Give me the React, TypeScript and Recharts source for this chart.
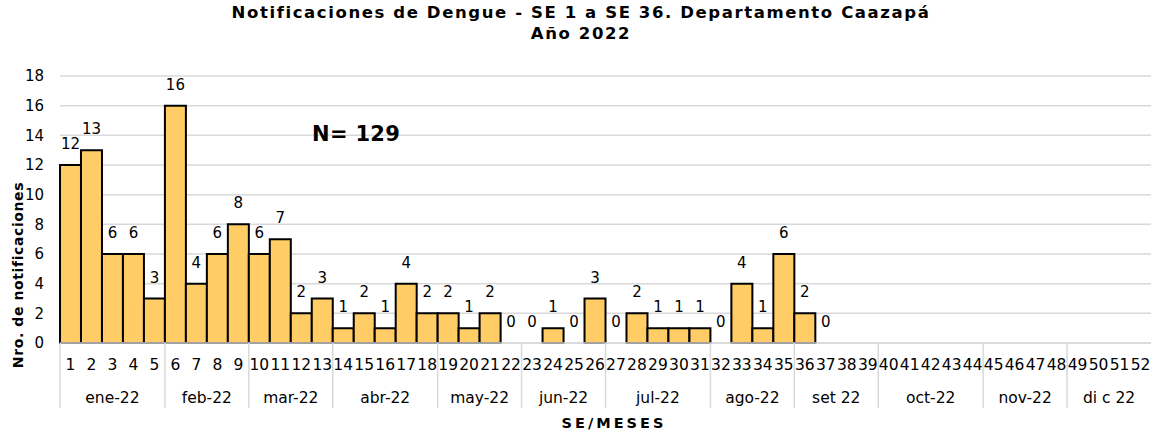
import React from "react";
import { ComposedChart, Bar, Line, XAxis, YAxis, CartesianGrid, LabelList } from "recharts";

// SE 1..52, valores notificados (SE 38 en adelante sin dato)
const semanas = Array.from({ length: 52 }, (_, i) => String(i + 1));
const notificaciones: (number | null)[] = [
  12, 13, 6, 6, 3, 16, 4, 6, 8, 6, 7, 2, 3, 1, 2, 1, 4, 2, 2, 1, 2, 0, 0, 1, 0, 3, 0, 2, 1, 1, 1, 0, 4, 1, 6, 2, 0,
  null, null, null, null, null, null, null, null, null, null, null, null, null, null, null,
];
const meses = ["ene-22", "feb-22", "mar-22", "abr-22", "may-22", "jun-22", "jul-22", "ago-22", "set 22", "oct-22", "nov-22", "di c 22"];
const semanasPorMes = [5, 4, 4, 5, 4, 4, 5, 4, 4, 5, 4, 4];
const yTicks = [0, 2, 4, 6, 8, 10, 12, 14, 16, 18];

const data = semanas.map((se, i) => ({ se, valor: notificaciones[i] }));

// semana (indice) donde empieza cada mes
const inicios: number[] = [0];
semanasPorMes.forEach((n) => inicios.push(inicios[inicios.length - 1] + n));

const W = 1152;
const H = 431;
const MARGIN = { top: 76, right: 1, left: 0, bottom: 25 };
const Y_W = 60;
const BAND = (W - MARGIN.left - MARGIN.right - Y_W) / semanas.length;

const FONT = "'DejaVu Sans', Verdana, sans-serif";
const GRID = "#d9d9d9";
const BASE_Y = 343;

// fila de semanas + fila de meses con separadores
const SemanaTick = (props: any) => {
  const { x, payload } = props;
  const i = payload.index;
  const m = inicios.indexOf(i);
  const edge = x - BAND / 2;
  return (
    <g>
      <text x={x} y={BASE_Y + 22} textAnchor="middle" dominantBaseline="central" fontSize={15.5} fill="#000" fontFamily={FONT}>
        {payload.value}
      </text>
      {m >= 0 && m < meses.length && (
        <>
          <line x1={edge} x2={edge} y1={BASE_Y} y2={BASE_Y + 65} stroke={GRID} strokeWidth={1.5} />
          <text
            x={edge + (semanasPorMes[m] * BAND) / 2}
            y={BASE_Y + 55}
            textAnchor="middle"
            dominantBaseline="central"
            fontSize={15.5}
            fill="#000"
            fontFamily={FONT}
          >
            {meses[m]}
          </text>
        </>
      )}
    </g>
  );
};

const ValorLabel = (props: any) => {
  const { x, y, value } = props;
  if (value === null || value === undefined) return null;
  return (
    <text x={x} y={y - 21} textAnchor="middle" dominantBaseline="central" fontSize={15} fill="#000" fontFamily={FONT}>
      {value}
    </text>
  );
};

export default function App() {
  return (
    <div style={{ position: "absolute", left: 0, top: 0, width: W, height: H, background: "#fff", fontFamily: FONT }}>
      <ComposedChart width={W} height={H} data={data} margin={MARGIN} barCategoryGap={0} barGap={0}>
        <CartesianGrid vertical={false} stroke={GRID} strokeWidth={1.5} />
        <XAxis
          dataKey="se"
          height={63}
          tickLine={false}
          axisLine={{ stroke: GRID, strokeWidth: 1.5 }}
          tick={<SemanaTick />}
          interval={0}
        />
        <YAxis
          domain={[0, 18]}
          ticks={yTicks}
          width={Y_W}
          axisLine={false}
          tickLine={false}
          tickSize={0}
          tickMargin={16}
          tick={{ fontSize: 15, fill: "#000", fontFamily: FONT }}
          interval={0}
        />
        <Bar dataKey="valor" fill="#ffcc66" stroke="#000" strokeWidth={2} isAnimationActive={false} />
        <Line dataKey="valor" stroke="none" dot={false} activeDot={false} isAnimationActive={false}>
          <LabelList dataKey="valor" content={<ValorLabel />} />
        </Line>
      </ComposedChart>
      <div style={{ position: "absolute", left: 0, width: 1162, top: 2, textAlign: "center", fontWeight: "bold", fontSize: 16.5, letterSpacing: 1.6, lineHeight: "21px" }}>
        Notificaciones de Dengue - SE 1 a SE 36. Departamento Caazapá
        <br />
        Año 2022
      </div>
      <div style={{ position: "absolute", left: 312, top: 120, fontWeight: "bold", fontSize: 21, letterSpacing: 0.3, lineHeight: "28px" }}>N= 129</div>
      <div
        style={{
          position: "absolute",
          left: 18,
          top: 275,
          transform: "translate(-50%, -50%) rotate(-90deg)",
          whiteSpace: "nowrap",
          fontWeight: "bold",
          fontSize: 14,
          letterSpacing: 0.6,
        }}
      >
        Nro. de notificaciones
      </div>
      <div style={{ position: "absolute", left: 0, width: 1228, top: 414, textAlign: "center", fontWeight: "bold", fontSize: 14.5, letterSpacing: 3, lineHeight: "18px" }}>
        SE/MESES
      </div>
    </div>
  );
}
